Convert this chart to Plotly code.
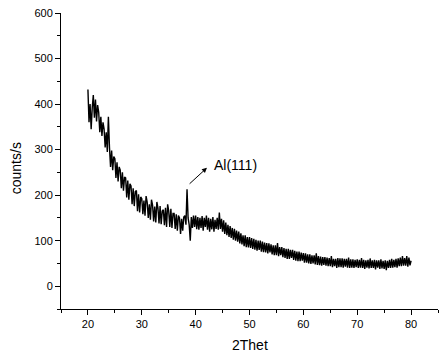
import plotly.graph_objects as go

# XRD scan: counts/s sampled every 0.2 deg from 20 to 80 (2Theta)
start_angle = 20.0
step_angle = 0.2
counts = [
    432, 360, 400, 345, 392,
    420, 370, 410, 362, 398,
    382, 338, 372, 330, 360,
    345, 305, 338, 295, 372,
    305, 262, 298, 255, 285,
    280, 238, 272, 230, 262,
    255, 215, 250, 210, 240,
    238, 195, 232, 190, 225,
    220, 180, 215, 176, 208,
    210, 165, 202, 162, 196,
    192, 158, 188, 155, 198,
    185, 150, 180, 146, 190,
    178, 142, 175, 140, 185,
    172, 138, 176, 136, 165,
    168, 134, 172, 130, 180,
    165, 130, 170, 128, 160,
    160, 126, 158, 122, 155,
    150, 115, 148, 122, 152,
    155, 135, 213, 150, 135,
    100, 152, 128, 155, 130,
    155, 125, 152, 124, 150,
    128, 154, 122, 150, 130,
    155, 124, 150, 120, 148,
    125, 152, 120, 146, 126,
    150, 124, 162, 126, 148,
    120, 145, 115, 140, 112,
    135, 108, 132, 106, 128,
    102, 126, 100, 122, 98,
    120, 94, 116, 92, 112,
    88, 112, 86, 108, 85,
    108, 84, 106, 82, 104,
    80, 102, 78, 100, 80,
    100, 76, 98, 75, 96,
    74, 95, 72, 94, 74,
    92, 70, 90, 68, 90,
    68, 95, 66, 86, 68,
    86, 64, 84, 62, 82,
    60, 82, 60, 80, 62,
    80, 58, 78, 56, 76,
    55, 76, 55, 74, 56,
    73, 52, 72, 52, 70,
    50, 70, 49, 68, 50,
    68, 48, 72, 47, 66,
    46, 65, 45, 64, 47,
    64, 45, 63, 44, 62,
    44, 66, 42, 60, 44,
    60, 40, 62, 42, 61,
    42, 61, 41, 60, 43,
    60, 41, 63, 40, 59,
    41, 59, 40, 58, 42,
    59, 40, 58, 41, 62,
    40, 58, 38, 57, 41,
    58, 39, 61, 40, 57,
    40, 58, 37, 57, 41,
    57, 38, 59, 39, 56,
    38, 57, 35, 56, 40,
    58, 40, 60, 41, 58,
    42, 60, 41, 61, 44,
    63, 44, 66, 45, 62,
    45, 66, 43, 63, 46,
    56,
]
two_theta = [round(start_angle + step_angle * i, 1) for i in range(len(counts))]

x_ticks = [20, 30, 40, 50, 60, 70, 80]
y_ticks = [0, 100, 200, 300, 400, 500, 600]

x_title = "2Thet"
y_title = "counts/s"
peak_label = "Al(111)"
peak_pos = (38.6, 222)
arrow_tip = (42.1, 260)
label_pos = (43.0, 267)

font_family = "Liberation Sans, Arial"

fig = go.Figure()
fig.add_trace(go.Scatter(x=two_theta, y=counts, mode="lines",
                         line=dict(color="black", width=1.4), showlegend=False))

fig.add_annotation(x=arrow_tip[0], y=arrow_tip[1], ax=peak_pos[0], ay=peak_pos[1],
                   xref="x", yref="y", axref="x", ayref="y", text="",
                   showarrow=True, arrowhead=2, arrowsize=1, arrowwidth=1,
                   arrowcolor="black")
fig.add_annotation(x=label_pos[0], y=label_pos[1], xref="x", yref="y",
                   text=peak_label, showarrow=False, xanchor="left",
                   font=dict(family=font_family, size=14, color="black"))
fig.add_annotation(x=0.5, y=-0.122, xref="paper", yref="paper", text=x_title,
                   showarrow=False, xanchor="center", yanchor="middle",
                   font=dict(family=font_family, size=14, color="black"))
fig.add_annotation(x=-0.119, y=0.476, xref="paper", yref="paper", text=y_title,
                   showarrow=False, xanchor="center", yanchor="middle", textangle=-90,
                   font=dict(family=font_family, size=14, color="black"))

axis_font = dict(family=font_family, size=11, color="black")
fig.update_xaxes(range=[15, 85], tickvals=x_ticks, ticks="outside", ticklen=5,
                 tickwidth=1, tickcolor="black", showline=True, linecolor="black",
                 linewidth=1, showgrid=False, zeroline=False, tickfont=axis_font,
                 automargin=False,
                 minor=dict(dtick=5, tick0=0, ticks="outside", ticklen=3,
                            tickcolor="black", showgrid=False))
fig.update_yaxes(range=[-50, 600], tickvals=y_ticks, ticks="outside", ticklen=5,
                 tickwidth=1, tickcolor="black", showline=True, linecolor="black",
                 linewidth=1, showgrid=False, zeroline=False, tickfont=axis_font,
                 automargin=False,
                 minor=dict(dtick=50, tick0=0, ticks="outside", ticklen=3,
                            tickcolor="black", showgrid=False))

fig.update_layout(width=439, height=356, margin=dict(l=61, r=1, t=13, b=47),
                  plot_bgcolor="white", paper_bgcolor="white")

fig.write_html("out.html", config={"displayModeBar": False},
               post_script="document.body.style.margin='0';document.body.style.overflow='hidden';")
